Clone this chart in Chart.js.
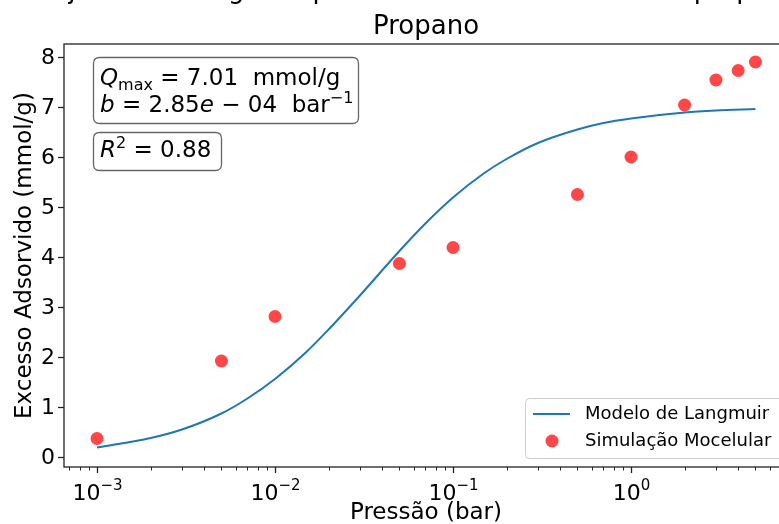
<!DOCTYPE html>
<html>
<head>
<meta charset="utf-8">
<script src="https://cdn.jsdelivr.net/npm/chart.js@4"></script>
<style>
  html, body { margin: 0; padding: 0; overflow: hidden; background: #fff; }
  #area { width: 800px; height: 524px; }
</style>
</head>
<body>
<div id="area"><canvas id="isoterma" width="800" height="524"></canvas></div>
<script>
// pontos da simulação molecular (bar, mmol/g)
const pressoes = [0.001, 0.005, 0.01, 0.05, 0.1, 0.5, 1, 2, 3, 4, 5];
const excesso = [0.37, 1.92, 2.81, 3.87, 4.19, 5.25, 6.0, 7.04, 7.54, 7.73, 7.9];

// curva do modelo de Langmuir
const pressoesModelo = [0.001, 0.002, 0.003, 0.005, 0.007, 0.01, 0.015, 0.02, 0.03, 0.05, 0.07,
  0.1, 0.15, 0.2, 0.3, 0.5, 0.7, 1, 2, 3, 5];
const excessoModelo = [0.19, 0.38, 0.55, 0.87, 1.17, 1.56, 2.10, 2.55, 3.23, 4.12, 4.67,
  5.19, 5.68, 5.96, 6.28, 6.55, 6.68, 6.77, 6.89, 6.93, 6.96];

const ticksY = [0, 1, 2, 3, 4, 5, 6, 7, 8];
const expoentesX = [-3, -2, -1, 0];

const titulo1 = "Ajuste de Langmuir para a isoterma simulada de propano";
const titulo2 = "Propano";
const nomeModelo = "Modelo de Langmuir";
const nomeSimulacao = "Simulação Mocelular";

const FONTE = "'DejaVu Sans', sans-serif";
const AZUL = "#1f77b4";
const VERMELHO = "rgba(255, 0, 0, 0.72)";

// escreve um texto em pedaços (itálico, índice, expoente)
function escreverPartes(ctx, x, y, partes) {
  for (const p of partes) {
    ctx.font = p.fonte;
    ctx.fillText(p.t, x, y + (p.dy || 0));
    x += ctx.measureText(p.t).width;
  }
  return x;
}

function caixaArredondada(ctx, x, y, w, h, r) {
  ctx.beginPath();
  ctx.moveTo(x + r, y);
  ctx.lineTo(x + w - r, y);
  ctx.quadraticCurveTo(x + w, y, x + w, y + r);
  ctx.lineTo(x + w, y + h - r);
  ctx.quadraticCurveTo(x + w, y + h, x + w - r, y + h);
  ctx.lineTo(x + r, y + h);
  ctx.quadraticCurveTo(x, y + h, x, y + h - r);
  ctx.lineTo(x, y + r);
  ctx.quadraticCurveTo(x, y, x + r, y);
  ctx.closePath();
}

const desenhoExtra = {
  id: "desenhoExtra",
  afterDraw(chart) {
    const ctx = chart.ctx;
    const area = chart.chartArea;
    const sx = chart.scales.x;
    const sy = chart.scales.y;
    const normal = "22px " + FONTE;
    const rotulo = "23px " + FONTE;
    const menor = "15px " + FONTE;
    const meio = (area.left + area.right) / 2;
    ctx.save();
    ctx.fillStyle = "#000";
    ctx.strokeStyle = "#222";

    // moldura
    ctx.lineWidth = 1.3;
    ctx.strokeRect(area.left, area.top, area.right - area.left, area.bottom - area.top);

    // ticks do eixo y
    ctx.font = normal;
    ctx.textAlign = "right";
    ctx.textBaseline = "middle";
    for (const v of ticksY) {
      const py = Math.round(sy.getPixelForValue(v)) + 0.5;
      ctx.beginPath();
      ctx.moveTo(area.left - 6, py);
      ctx.lineTo(area.left, py);
      ctx.stroke();
      ctx.fillText(String(v), area.left - 9, py + 1);
    }

    // ticks menores do eixo x (log)
    ctx.lineWidth = 1;
    for (let n = -4; n <= 0; n++) {
      for (let k = 2; k <= 9; k++) {
        const v = k * Math.pow(10, n);
        if (v < sx.min || v > sx.max) continue;
        const px = Math.round(sx.getPixelForValue(v)) + 0.5;
        ctx.beginPath();
        ctx.moveTo(px, area.bottom);
        ctx.lineTo(px, area.bottom + 3.5);
        ctx.stroke();
      }
    }
    // ticks maiores com rótulos 10^n
    ctx.lineWidth = 1.3;
    ctx.textAlign = "left";
    ctx.textBaseline = "alphabetic";
    for (const e of expoentesX) {
      const px = Math.round(sx.getPixelForValue(Math.pow(10, e))) + 0.5;
      ctx.beginPath();
      ctx.moveTo(px, area.bottom);
      ctx.lineTo(px, area.bottom + 6);
      ctx.stroke();
      const exp = e < 0 ? "\u2212" + (-e) : String(e);
      ctx.font = normal;
      const w1 = ctx.measureText("10").width;
      ctx.font = menor;
      const w2 = ctx.measureText(exp).width;
      const x0 = px - (w1 + w2) / 2;
      escreverPartes(ctx, x0, 500, [
        { t: "10", fonte: normal },
        { t: exp, fonte: menor, dy: -10 }
      ]);
    }

    // títulos dos eixos
    ctx.font = rotulo;
    ctx.textAlign = "center";
    ctx.fillText("Pressão (bar)", meio, 519);
    ctx.save();
    ctx.translate(31, (area.top + area.bottom) / 2);
    ctx.rotate(-Math.PI / 2);
    ctx.fillText("Excesso Adsorvido (mmol/g)", 0, 0);
    ctx.restore();

    // título em duas linhas (a primeira fica cortada no topo)
    ctx.font = "26px " + FONTE;
    ctx.fillText(titulo1, meio, -2);
    ctx.fillText(titulo2, meio, 34);

    // caixas de texto com os parâmetros
    const fa = "23px " + FONTE;
    const fi = "italic 23px " + FONTE;
    const fp = "16px " + FONTE;
    ctx.textAlign = "left";
    ctx.fillStyle = "#fff";
    ctx.strokeStyle = "#666";
    ctx.lineWidth = 1.3;
    caixaArredondada(ctx, 93.5, 57.5, 265, 66, 6);
    ctx.fill(); ctx.stroke();
    caixaArredondada(ctx, 93.5, 132.5, 128, 38, 6);
    ctx.fill(); ctx.stroke();
    ctx.fillStyle = "#000";
    escreverPartes(ctx, 100, 85, [
      { t: "Q", fonte: fi },
      { t: "max", fonte: fp, dy: 5 },
      { t: " = 7.01  mmol/g", fonte: fa }
    ]);
    escreverPartes(ctx, 100, 112, [
      { t: "b", fonte: fi },
      { t: " = 2.85", fonte: fa },
      { t: "e", fonte: fi },
      { t: " \u2212 04  bar", fonte: fa },
      { t: "\u22121", fonte: fp, dy: -9 }
    ]);
    escreverPartes(ctx, 100, 157, [
      { t: "R", fonte: fi },
      { t: "2", fonte: fp, dy: -9 },
      { t: " = 0.88", fonte: fa }
    ]);

    // legenda
    ctx.fillStyle = "rgba(255,255,255,0.85)";
    ctx.strokeStyle = "#cccccc";
    ctx.lineWidth = 1;
    caixaArredondada(ctx, 525.5, 398.5, 270, 60, 4);
    ctx.fill(); ctx.stroke();
    ctx.strokeStyle = AZUL;
    ctx.lineWidth = 2;
    ctx.beginPath();
    ctx.moveTo(533, 414);
    ctx.lineTo(570, 414);
    ctx.stroke();
    ctx.fillStyle = VERMELHO;
    ctx.beginPath();
    ctx.arc(552, 441, 6.5, 0, Math.PI * 2);
    ctx.fill();
    ctx.fillStyle = "#000";
    ctx.font = "18px " + FONTE;
    ctx.textBaseline = "middle";
    ctx.fillText(nomeModelo, 585, 414);
    ctx.fillText(nomeSimulacao, 585, 441);
    ctx.restore();
  }
};

const ctx = document.getElementById("isoterma").getContext("2d");
new Chart(ctx, {
  type: "scatter",
  data: {
    datasets: [
      {
        label: nomeSimulacao,
        data: pressoes.map((p, i) => ({ x: p, y: excesso[i] })),
        backgroundColor: VERMELHO,
        borderWidth: 0,
        pointRadius: 6.5,
        order: 0
      },
      {
        label: nomeModelo,
        data: pressoesModelo.map((p, i) => ({ x: p, y: excessoModelo[i] })),
        showLine: true,
        borderColor: AZUL,
        borderWidth: 2,
        pointRadius: 0,
        cubicInterpolationMode: "monotone",
        order: 1
      }
    ]
  },
  options: {
    responsive: false,
    animation: false,
    devicePixelRatio: 1,
    layout: { padding: { top: 44, right: 12, bottom: 0, left: 0 } },
    plugins: {
      legend: { display: false },
      tooltip: { enabled: false },
      title: { display: false }
    },
    scales: {
      x: {
        type: "logarithmic",
        min: Math.pow(10, -3.1854),
        max: Math.pow(10, 0.882),
        ticks: { display: false },
        grid: { display: false },
        border: { display: false },
        afterFit: s => { s.height = 57; }
      },
      y: {
        type: "linear",
        min: -0.2,
        max: 8.26,
        ticks: { display: false },
        grid: { display: false },
        border: { display: false },
        afterFit: s => { s.width = 64; }
      }
    }
  },
  plugins: [desenhoExtra]
});
</script>
</body>
</html>
